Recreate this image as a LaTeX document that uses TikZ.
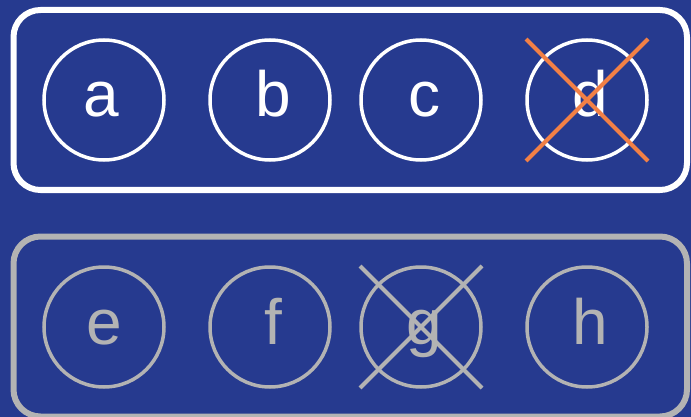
\documentclass[tikz,border=0pt]{standalone}
\usepackage{fontspec}
\setmainfont{Liberation Sans}
\usetikzlibrary{calc}
\definecolor{bgblue}{RGB}{38,58,143}
\definecolor{lgray}{RGB}{179,179,179}
\definecolor{xorange}{RGB}{242,128,70}
\begin{document}
\begin{tikzpicture}[x=1pt,y=-1pt,
  panel/.style={draw, line width=6pt, rounded corners=27pt, minimum width=673.5pt, minimum height=180pt, inner sep=0pt},
  circ/.style={circle, draw, line width=3.5pt, minimum size=120pt, inner sep=0pt},
  lbl/.style={anchor=base, inner sep=0pt, font=\fontsize{64}{64}\selectfont},
  cross/.style={line width=4pt}
]
\fill[bgblue] (0,0) rectangle (691,417);
\useasboundingbox (0,0) rectangle (691,417);
% top panel
\node[panel, white] (top) at (350.25,100) {};
\node[circ, white] (a) at (104,100) {};
\node[circ, white] (b) at (270,100) {};
\node[circ, white] (c) at (421,100) {};
\node[circ, white] (d) at (587,100) {};
\node[lbl, text=white] (ta) at ($(a)+(-3,17)$) {a};
\node[lbl, text=white] (tb) at ($(b)+(3,17)$) {b};
\node[lbl, text=white] (tc) at ($(c)+(3,17)$) {c};
\node[lbl, text=white] (td) at ($(d)+(3,17)$) {d};
\draw[cross, xorange] ([shift={(-61,-61)}]d.center) -- ([shift={(61,61)}]d.center);
\draw[cross, xorange] ([shift={(61,-61)}]d.center) -- ([shift={(-61,61)}]d.center);
% bottom panel
\node[panel, lgray] (bottom) at (350.25,326.5) {};
\node[circ, lgray] (e) at (104,327) {};
\node[circ, lgray] (f) at (270,327) {};
\node[circ, lgray] (g) at (421,327) {};
\node[circ, lgray] (h) at (587,327) {};
\node[lbl, text=lgray] (te) at ($(e)+(0,17)$) {e};
\node[lbl, text=lgray] (tf) at ($(f)+(3,17)$) {f};
\node[lbl, text=lgray] (tg) at ($(g)+(3,17)$) {g};
\node[lbl, text=lgray] (th) at ($(h)+(3,17)$) {h};
\draw[cross, lgray] ([shift={(-61,-61)}]g.center) -- ([shift={(61,61)}]g.center);
\draw[cross, lgray] ([shift={(61,-61)}]g.center) -- ([shift={(-61,61)}]g.center);
\end{tikzpicture}
\end{document}
